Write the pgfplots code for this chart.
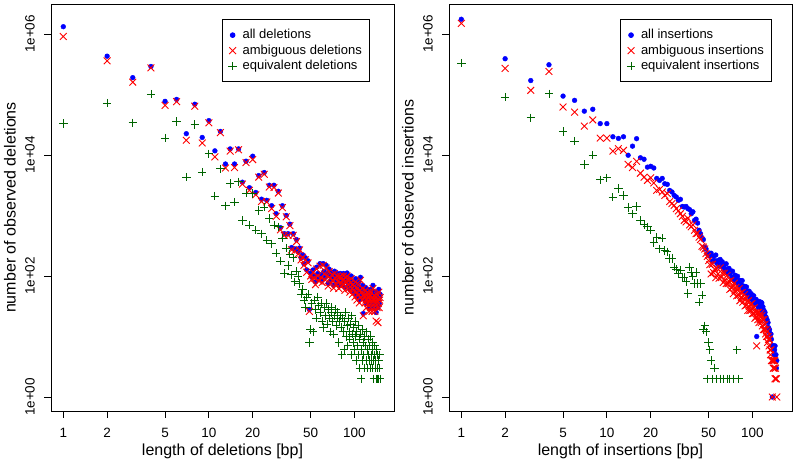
\documentclass[border=0pt]{standalone}
\usepackage{fontspec}
\setmainfont{Liberation Sans}
\usepackage{pgfplots}
\pgfplotsset{compat=1.18}
\usepackage{pgfplotstable}
\definecolor{rblue}{RGB}{0,0,255}
\definecolor{rred}{RGB}{255,0,0}
\definecolor{rgreen}{RGB}{0,100,0}

\pgfplotstableread{
L all amb eq
1 1320000 910000 33000
2 430000 360000 72000
3 190000 160000 34000
4 290000 275000 102000
5 77000 66000 19000
6 83000 76000 36000
7 22500 17500 4300
8 69000 64000 32000
9 19500 15800 5200
10 37000 34000 10500
11 11700 9300 2100
12 24500 23400 5900
13 7100 6100 1440
14 12600 11600 3400
15 7100 6200 1670
16 12600 12200 3600
17 3550 3300 830
18 7900 7500 2350
19 2880 2600 690
20 9550 8400 2300
21 2400 2200 570
22 4570 4300 1200
23 1860 1700 500
24 5130 4800 1380
25 1780 1670 390
26 3160 2950 890
27 1450 1300 340
28 3160 2900 690
29 1070 970 240
30 2510 2350 650
31 630 580 175
32 1450 1350 420
33 500 470 110
34 1000 950 290
35 500 470 150
36 720 680 230
37 295 270 105
38 500 470 200
39 280 260 80
40 400 370 120
41 250 230 100
42 290 270 75
43 200 185 50
44 225 205 60
45 160 150 40
46 200 185 30
47 126 115 45
48 178 165 50
49 28 26 8
50 112 100 13
51 95 88 35
52 126 115 12
53 100 92 40
54 80 72 28
55 140 130 20
56 110 100 45
57 90 82 32
58 160 145 25
59 105 95 35
60 85 78 18
61 160 150 14
62 120 108 30
63 95 86 22
64 150 135 35
65 110 100 16
66 75 68 28
67 130 118 20
68 100 92 12
69 85 76 25
70 115 105 30
71 95 86 18
72 70 63 11
73 120 110 22
74 100 90 28
75 80 72 15
76 110 100 20
77 90 82 25
78 70 62 8
79 105 95 18
80 110 100 22
81 85 76 14
82 75 68 5
83 95 86 20
84 110 100 12
85 80 72 6
86 65 58 18
87 90 82 25
88 105 95 10
89 112 100 15
90 80 72 7
91 70 62 20
92 95 85 12
93 60 54 9
94 85 76 16
95 100 90 5
96 70 62 22
97 55 50 11
98 80 72 8
99 65 58 14
100 75 68 6
101 50 45 18
102 90 80 10
103 60 54 4
104 45 40 12
105 70 62 7
106 55 48 15
107 80 72 5
108 40 36 9
109 65 58 3
110 95 85 11
111 50 45 2
112 60 54 6
113 45 40 13
114 70 62 4
115 24 22 8
116 55 48 5
117 50 45 10
118 40 36 3
119 65 58 7
120 45 40 4
121 35 30 12
122 55 48 6
123 60 54 3
124 40 35 9
125 50 44 5
126 30 26 4
127 55 48 7
128 45 40 3
129 35 30 10
130 60 54 5
131 40 35 4
132 30 26 6
133 50 44 3
134 70 62 8
135 45 40 4
136 35 30 2
137 55 48 5
138 30 26 7
139 40 35 3
140 50 44 4
141 25 18 2
142 45 40 6
143 35 30 3
144 55 48 5
145 30 17 2
146 40 35 4
147 60 54 2
148 35 30 3
149 45 40 5
150 50 44 2
}\deltab

\pgfplotstableread{
L all amb eq
1 1750000 1500000 330000
2 390000 270000 91000
3 170000 117000 41000
4 310000 240000 103000
5 94000 62000 24600
6 80000 51000 17000
7 53000 30000 7000
8 57000 38000 10000
9 33000 19000 3900
10 33000 19000 4200
11 20000 11600 2000
12 18800 12700 2800
13 20000 11900 2150
14 9900 7000 1350
15 14000 6200 1070
16 18600 7850 1400
17 9000 5000 830
18 8500 4300 710
19 6300 3800 650
20 6500 4200 570
21 6100 3450 360
22 4100 2600 430
23 3800 2700 280
24 4100 2450 420
25 3350 2150 265
26 3270 2300 250
27 2600 1700 195
28 2450 1570 195
29 2150 1470 140
30 2020 1300 130
31 1780 1190 110
32 1850 1070 125
33 1410 970 96
34 1380 830 96
35 1410 780 80
36 1300 900 51
37 1250 700 140
38 1070 650 115
39 1150 700 100
40 830 570 75
41 870 500 115
42 750 510 75
43 570 440 37
44 500 400 75
45 430 310 48
46 400 300 13
47 300 280 15
48 280 235 12
49 235 210 2
50 220 180 8
51 215 154 6
52 238 108 4
53 176 156 2
54 211 114 nan
55 180 130 3
56 222 94 nan
57 162 135 2
58 180 108 nan
59 146 92 nan
60 188 136 2
61 157 95 nan
62 172 111 nan
63 138 78 2
64 152 111 nan
65 122 86 nan
66 159 75 nan
67 130 102 2
68 112 75 nan
69 134 82 nan
70 110 60 2
71 121 84 nan
72 95 63 nan
73 120 68 nan
74 97 51 2
75 83 76 nan
76 103 58 nan
77 93 65 nan
78 79 47 6
79 99 58 nan
80 77 48 2
81 84 62 nan
82 68 39 nan
83 84 52 nan
84 71 44 nan
85 84 53 nan
86 60 37 nan
87 68 42 nan
88 55 49 nan
89 67 32 nan
90 56 42 nan
91 66 33 nan
92 51 38 nan
93 56 27 nan
94 46 39 nan
95 56 31 nan
96 49 27 nan
97 42 34 nan
98 51 27 nan
99 43 35 nan
100 48 24 nan
101 37 29 nan
102 47 24 nan
103 37 30 nan
104 41 20 nan
105 34 25 nan
106 41 21 nan
107 10 7 nan
108 34 25 nan
109 37 19 nan
110 30 25 nan
111 38 17 nan
112 30 22 nan
113 34 19 nan
114 37 24 nan
115 34 17 nan
116 36 22 nan
117 26 15 nan
118 31 19 nan
119 23 13 nan
120 27 19 nan
121 23 13 nan
122 25 16 nan
123 19 11 nan
124 21 13 nan
125 18 10 nan
126 19 12 nan
127 14 8 nan
128 17 10 nan
129 14 9 nan
130 12 7 nan
131 13 9 nan
132 11 6 nan
133 9 5 nan
134 11 6 nan
135 9 4 nan
136 7 4 nan
137 1 1 nan
138 7 4 nan
139 6 3 nan
140 7 4 nan
141 5 3 nan
142 6 4 nan
143 7 2 nan
144 4 3 nan
145 5 2 nan
146 3 2 nan
147 4 1 nan
}\instab

\begin{document}
\begin{tikzpicture}
\useasboundingbox (0,0) rectangle (796pt,464pt);
\begin{axis}[xmode=log, ymode=log, scale only axis,
    width=343pt, height=407pt,
    xmin=0.823, xmax=187, ymin=0.587, ymax=3.13e6,
    unbounded coords=discard,
    axis line style={line width=0.8pt, black},
    tick align=outside, major tick length=7pt,
    major tick style={line width=0.8pt, black},
    minor tick style={draw=none}, minor tick length=0pt,
    xtick pos=left, ytick pos=left,
    xtick={1,2,5,10,20,50,100}, xticklabels={1,2,5,10,20,50,100},
    ytick={1,100,10000,1000000}, yticklabels={1e+00,1e+02,1e+04,1e+06},
    /pgf/number format/assume math mode=true,
    ticklabel style={font=\fontsize{13.5}{16}\selectfont},
    xticklabel style={anchor=north, inner sep=0pt, yshift=-10pt},
    yticklabel style={xshift=-9pt, rotate=90, anchor=south, inner sep=0pt},
    label style={font=\fontsize{16}{19}\selectfont},
    xlabel style={at={(axis description cs:0.5,-0.098)}, anchor=center},
    ylabel style={at={(axis description cs:-0.12,0.5)}, anchor=center},
    legend cell align=left,
    legend style={anchor=north east, draw=black, line width=0.8pt,
      font=\fontsize{13}{15}\selectfont, inner xsep=6pt, inner ysep=8pt,
      column sep=4pt, row sep=0pt,
      nodes={inner sep=1.75pt, text height=9.5pt, text depth=2.5pt},
      at={(axis description cs:1,1)}, xshift=-24pt, yshift=-15pt},
    at={(51pt,53pt)}, anchor=south west,
  xlabel={length of deletions [bp]}, ylabel={number of observed deletions}]
\addplot[only marks, mark=*, mark size=2.4pt, color=rblue, mark options={fill=rblue, draw=none}] table[x=L,y=all]{\deltab};
\addlegendentry{all deletions}
\addplot[only marks, mark=x, mark size=4.8pt, color=rred, line width=0.9pt] table[x=L,y=amb]{\deltab};
\addlegendentry{ambiguous deletions}
\addplot[only marks, mark=+, mark size=4.2pt, color=rgreen, line width=0.9pt] table[x=L,y=eq]{\deltab};
\addlegendentry{equivalent deletions}
\end{axis}
\begin{axis}[xmode=log, ymode=log, scale only axis,
    width=343pt, height=407pt,
    xmin=0.823, xmax=187, ymin=0.587, ymax=3.13e6,
    unbounded coords=discard,
    axis line style={line width=0.8pt, black},
    tick align=outside, major tick length=7pt,
    major tick style={line width=0.8pt, black},
    minor tick style={draw=none}, minor tick length=0pt,
    xtick pos=left, ytick pos=left,
    xtick={1,2,5,10,20,50,100}, xticklabels={1,2,5,10,20,50,100},
    ytick={1,100,10000,1000000}, yticklabels={1e+00,1e+02,1e+04,1e+06},
    /pgf/number format/assume math mode=true,
    ticklabel style={font=\fontsize{13.5}{16}\selectfont},
    xticklabel style={anchor=north, inner sep=0pt, yshift=-10pt},
    yticklabel style={xshift=-9pt, rotate=90, anchor=south, inner sep=0pt},
    label style={font=\fontsize{16}{19}\selectfont},
    xlabel style={at={(axis description cs:0.5,-0.098)}, anchor=center},
    ylabel style={at={(axis description cs:-0.12,0.5)}, anchor=center},
    legend cell align=left,
    legend style={anchor=north east, draw=black, line width=0.8pt,
      font=\fontsize{13}{15}\selectfont, inner xsep=6pt, inner ysep=8pt,
      column sep=4pt, row sep=0pt,
      nodes={inner sep=1.75pt, text height=9.5pt, text depth=2.5pt},
      at={(axis description cs:1,1)}, xshift=-20pt, yshift=-15pt},
    at={(449pt,53pt)}, anchor=south west,
  xlabel={length of insertions [bp]}, ylabel={number of observed insertions}]
\addplot[only marks, mark=*, mark size=2.4pt, color=rblue, mark options={fill=rblue, draw=none}] table[x=L,y=all]{\instab};
\addlegendentry{all insertions}
\addplot[only marks, mark=x, mark size=4.8pt, color=rred, line width=0.9pt] table[x=L,y=amb]{\instab};
\addlegendentry{ambiguous insertions}
\addplot[only marks, mark=+, mark size=4.2pt, color=rgreen, line width=0.9pt] table[x=L,y=eq]{\instab};
\addlegendentry{equivalent insertions}
\end{axis}
\end{tikzpicture}
\end{document}
